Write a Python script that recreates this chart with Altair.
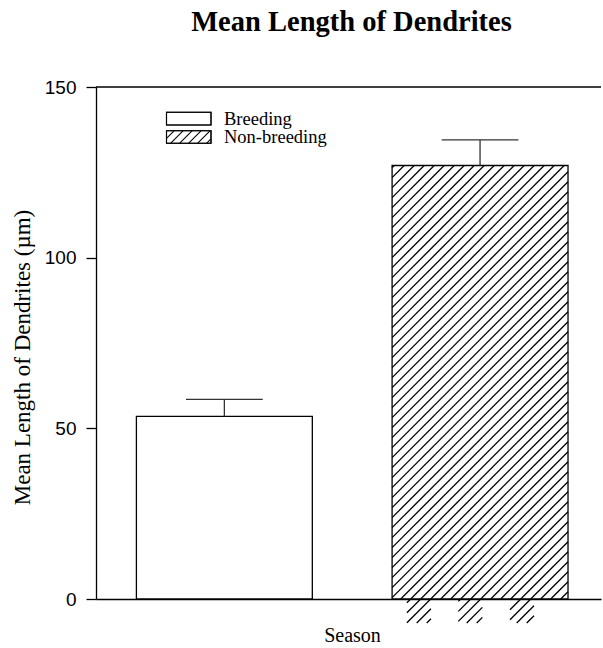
import altair as alt
import pandas as pd

# ---- data -------------------------------------------------------------
seasons = ["Breeding", "Non-breeding"]
mean_length = [53.5, 127.0]      # µm
sem = [5.0, 7.5]                 # upper error bar length
y_ticks = [0, 50, 100, 150]
chart_title = "Mean Length of Dendrites"

# ---- layout -----------------------------------------------------------
W, H = 505, 512
X_DOMAIN = [0.498, 2.473]        # categories sit at 1, 2
Y_DOMAIN = [0, 150]
BAR_HALF = 0.344
CAP_HALF = 0.15
KX = W / (X_DOMAIN[1] - X_DOMAIN[0])   # px per x unit
KY = H / (Y_DOMAIN[1] - Y_DOMAIN[0])   # px per y unit

SERIF = "Liberation Serif"
SANS = "Liberation Sans"

pos = [i + 1 for i in range(len(seasons))]
bars = pd.DataFrame({
    "season": seasons,
    "pos": pos,
    "left": [p - BAR_HALF for p in pos],
    "right": [p + BAR_HALF for p in pos],
    "mean": mean_length,
    "top": [m + e for m, e in zip(mean_length, sem)],
    "cap_l": [p - CAP_HALF for p in pos],
    "cap_r": [p + CAP_HALF for p in pos],
})


def hatch(x0, x1, y0, y1, spacing=10.0, phase=4.7):
    """45-degree hatch segments clipped to a rectangle given in data units."""
    L = (x0 - X_DOMAIN[0]) * KX
    R = (x1 - X_DOMAIN[0]) * KX
    b = (y0 - Y_DOMAIN[0]) * KY
    t = (y1 - Y_DOMAIN[0]) * KY
    segs = []
    k = int((L - t - phase) // spacing) - 1
    while True:
        c = phase + k * spacing
        if c > R - b:
            break
        us, ue = max(b, L - c), min(t, R - c)
        if ue > us:
            segs.append({
                "hx": X_DOMAIN[0] + (us + c) / KX, "hy": Y_DOMAIN[0] + us / KY,
                "hx2": X_DOMAIN[0] + (ue + c) / KX, "hy2": Y_DOMAIN[0] + ue / KY,
            })
        k += 1
    return segs


hb = bars[bars.season == "Non-breeding"].iloc[0]
hatch_rows = hatch(hb.left, hb.right, 0, hb["mean"])
# hatched tick stubs hanging under the axis beneath the hatched bar
for tick_x in [1.714, 1.915, 2.117]:
    hatch_rows += hatch(tick_x, tick_x + 0.094, -7.03, 0)
hatch_df = pd.DataFrame(hatch_rows)

xs = alt.Scale(domain=X_DOMAIN, nice=False, zero=False)
ys = alt.Scale(domain=Y_DOMAIN, nice=False)

x_axis = alt.Axis(
    title="Season", labels=False, ticks=False, grid=False,
    domainColor="black", domainWidth=1.3,
    titleFont=SERIF, titleFontSize=20, titleFontWeight="normal",
    titleColor="black", titleX=256, titleY=42, titleBaseline="alphabetic",
)
y_axis = alt.Axis(
    title="Mean Length of Dendrites (µm)", values=y_ticks, grid=False,
    domainColor="black", domainWidth=1.3, tickColor="black", tickWidth=1.3,
    tickSize=10, labelFont=SANS, labelFontSize=19, labelColor="black",
    labelPadding=10,
    titleFont=SERIF, titleFontSize=23, titleFontWeight="normal",
    titleColor="black", titleX=-74, titleY=270, titleAngle=270,
    titleAlign="center", titleBaseline="middle",
)

base = alt.Chart(bars)

bar_fill = base.mark_bar(fill="white", stroke=None).encode(
    x=alt.X("left:Q", scale=xs, axis=x_axis),
    x2="right:Q",
    y=alt.Y("mean:Q", scale=ys, axis=y_axis),
    y2=alt.datum(0),
)

hatch_lines = alt.Chart(hatch_df).mark_rule(
    color="black", strokeWidth=1.3, clip=False
).encode(
    x=alt.X("hx:Q", scale=xs), x2="hx2:Q",
    y=alt.Y("hy:Q", scale=ys), y2="hy2:Q",
)

bar_edge = base.mark_bar(fill="white", fillOpacity=0, stroke="black",
                         strokeWidth=1.3).encode(
    x=alt.X("left:Q", scale=xs), x2="right:Q",
    y=alt.Y("mean:Q", scale=ys), y2=alt.datum(0),
)

err_stem = base.mark_rule(color="#333333", strokeWidth=1.3).encode(
    x=alt.X("pos:Q", scale=xs),
    y=alt.Y("mean:Q", scale=ys), y2="top:Q",
)
err_cap = base.mark_rule(color="#333333", strokeWidth=1.3).encode(
    x=alt.X("cap_l:Q", scale=xs), x2="cap_r:Q",
    y=alt.Y("top:Q", scale=ys),
)

top_line = alt.Chart(pd.DataFrame({"v": [Y_DOMAIN[1]]})).mark_rule(
    color="black", strokeWidth=1.3
).encode(y=alt.Y("v:Q", scale=ys))

# chart heading, placed above the frame
heading = alt.Chart(pd.DataFrame({"t": [chart_title]})).mark_text(
    align="center", baseline="alphabetic", font=SERIF, fontSize=28.5,
    fontWeight="bold", color="black",
).encode(x=alt.value(W / 2 + 3), y=alt.value(-56), text="t:N")

# ---- hand-drawn legend (pixel space) ----------------------------------
leg_boxes = pd.DataFrame({
    "season": seasons,
    "bx": [70.5, 70.5], "bx2": [115, 115],
    "by": [25.3, 43.8], "by2": [38, 56.3],
    "tx": [128, 128], "ty": [31.6, 50.0],
})
leg_rect = alt.Chart(leg_boxes).mark_rect(
    fill="white", stroke="black", strokeWidth=1.1
).encode(
    x=alt.X("bx:Q", scale=None), x2="bx2:Q",
    y=alt.Y("by:Q", scale=None), y2="by2:Q",
)
leg_text = alt.Chart(leg_boxes).mark_text(
    align="left", baseline="middle", font=SERIF, fontSize=18.5, color="black"
).encode(
    x=alt.X("tx:Q", scale=None), y=alt.Y("ty:Q", scale=None), text="season:N",
)

# hatch inside the non-breeding legend swatch
lb = leg_boxes.iloc[1]
leg_hatch_rows = []
for c in range(-int(lb.by2 - lb.by) - 2, int(lb.bx2 - lb.bx) + 2, 9):
    left, right = lb.bx, lb.bx2
    h = lb.by2 - lb.by
    vs = max(0.0, c)
    ve = min(right - left, c + h)
    if ve > vs:
        leg_hatch_rows.append({
            "lx": left + vs, "ly": lb.by2 - (vs - c),
            "lx2": left + ve, "ly2": lb.by2 - (ve - c),
        })
leg_hatch = alt.Chart(pd.DataFrame(leg_hatch_rows)).mark_rule(
    color="black", strokeWidth=1.1
).encode(
    x=alt.X("lx:Q", scale=None), x2="lx2:Q",
    y=alt.Y("ly:Q", scale=None), y2="ly2:Q",
)
leg_edge = alt.Chart(leg_boxes).mark_rect(
    fill="white", fillOpacity=0, stroke="black", strokeWidth=1.1
).encode(
    x=alt.X("bx:Q", scale=None), x2="bx2:Q",
    y=alt.Y("by:Q", scale=None), y2="by2:Q",
)

chart = alt.layer(
    bar_fill, hatch_lines, bar_edge, err_stem, err_cap, top_line, heading,
    leg_rect, leg_hatch, leg_edge, leg_text,
).properties(
    width=W, height=H,
    autosize=alt.AutoSizeParams(type="none"),
    padding={"left": 96, "top": 87, "right": 2, "bottom": 49},
    background="white",
).configure_view(stroke=None)

chart.save("out.html", embed_options={"renderer": "svg", "actions": False})
